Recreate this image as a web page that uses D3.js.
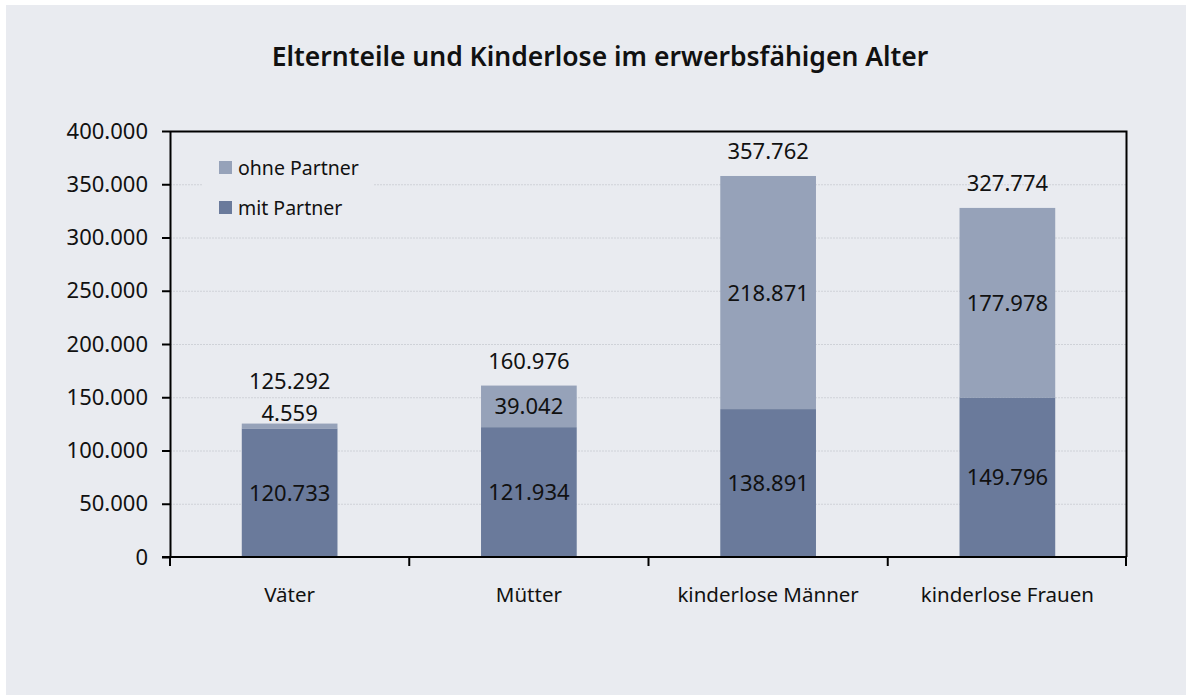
<!DOCTYPE html>
<html lang="de">
<head>
<meta charset="utf-8">
<title>Elternteile und Kinderlose</title>
<script src="https://d3js.org/d3.v7.min.js"></script>
<style>
  body { margin: 0; background: #ffffff; }
  text { font-family: "Noto Sans", sans-serif; fill: #111; }
</style>
</head>
<body>
<script>
// data
const categories = ["Väter", "Mütter", "kinderlose Männer", "kinderlose Frauen"];
const mitPartner = [120733, 121934, 138891, 149796];
const ohnePartner = [4559, 39042, 218871, 177978];
const totals = [125292, 160976, 357762, 327774];
const yTicks = [0, 50000, 100000, 150000, 200000, 250000, 300000, 350000, 400000];
const seriesNames = ["mit Partner", "ohne Partner"];

const width = 1191, height = 699;
const mLeft = 170, mRight = 1127, mTop = 131, mBottom = 557;
const darkCol = "#6a7a9b", lightCol = "#96a2b9", bg = "#e9ebf0";
const numSize = "22px";

const fmt = d3.formatLocale({decimal: ",", thousands: ".", grouping: [3], currency: ["", "€"]}).format(",d");

const svg = d3.select("body").append("svg")
    .attr("width", width)
    .attr("height", height);

svg.append("rect")
    .attr("x", 6).attr("y", 5)
    .attr("width", width - 11).attr("height", height - 9)
    .attr("fill", bg);

// title
svg.append("text")
    .attr("x", 600).attr("y", 66)
    .attr("text-anchor", "middle")
    .style("font-size", "26.5px")
    .style("font-weight", "600")
    .text("Elternteile und Kinderlose im erwerbsfähigen Alter");

const x = d3.scaleBand().domain(categories).range([mLeft, mRight]);
const y = d3.scaleLinear().domain([0, 400000]).range([mBottom, mTop]);

// gridlines
svg.append("g").selectAll("line")
    .data(yTicks.slice(1, -1))
    .enter().append("line")
    .attr("x1", mLeft).attr("x2", mRight)
    .attr("y1", d => y(d) + 0.5).attr("y2", d => y(d) + 0.5)
    .attr("stroke", "#cfd2d8")
    .attr("stroke-dasharray", "2,1");

// stacked bars
const rows = categories.map((c, i) => ({cat: c, mit: mitPartner[i], ohne: ohnePartner[i], total: totals[i]}));
const stack = d3.stack().keys(["mit", "ohne"])(rows);
const colors = [darkCol, lightCol];
const bw = x.bandwidth() * 0.4;

stack.forEach((layer, k) => {
    svg.append("g").selectAll("rect")
        .data(layer)
        .enter().append("rect")
        .attr("x", d => x(d.data.cat) + (x.bandwidth() - bw) / 2)
        .attr("y", d => y(d[1]))
        .attr("width", bw)
        .attr("height", d => y(d[0]) - y(d[1]))
        .attr("fill", colors[k]);
});

// segment labels (tiny segments get their label just above the bar)
stack.forEach((layer, k) => {
    svg.append("g").selectAll("text")
        .data(layer)
        .enter().append("text")
        .attr("x", d => x(d.data.cat) + x.bandwidth() / 2)
        .attr("y", d => {
            const h = y(d[0]) - y(d[1]);
            if (h < 26) return y(d[1]) - 3;
            return (y(d[0]) + y(d[1])) / 2 + 8;
        })
        .attr("text-anchor", "middle")
        .style("font-size", numSize)
        .text(d => fmt(d[1] - d[0]));
});

// total labels
svg.append("g").selectAll("text")
    .data(rows)
    .enter().append("text")
    .attr("x", d => x(d.cat) + x.bandwidth() / 2)
    .attr("y", (d, i) => y(d.total) - (ohnePartner[i] / d.total < 0.1 ? 35 : 17))
    .attr("text-anchor", "middle")
    .style("font-size", numSize)
    .text(d => fmt(d.total));

// frame top / right
svg.append("path")
    .attr("d", `M${mLeft},${mTop + 0.5}H${mRight - 0.5}V${mBottom}`)
    .attr("fill", "none")
    .attr("stroke", "#000")
    .attr("stroke-width", 2);

// y axis
const yAxis = svg.append("g")
    .attr("transform", `translate(${mLeft},0)`)
    .call(d3.axisLeft(y).tickValues(yTicks).tickFormat(fmt).tickSizeInner(8).tickSizeOuter(0).tickPadding(14));
yAxis.select(".domain").attr("stroke-width", 2);
yAxis.selectAll(".tick line").attr("stroke-width", 2);
yAxis.selectAll("text").style("font-size", numSize).style("font-family", "Noto Sans").attr("fill", "#111");

// x axis: ticks between categories
const xAxis = svg.append("g")
    .attr("transform", `translate(0,${mBottom})`);
xAxis.append("line")
    .attr("x1", mLeft - 8).attr("x2", mRight)
    .attr("stroke", "#000").attr("stroke-width", 2);
const bounds = categories.map(c => x(c)).concat([mRight - 1]);
xAxis.selectAll(".xt").data(bounds).enter().append("line")
    .attr("x1", d => d).attr("x2", d => d)
    .attr("y1", 0).attr("y2", 9)
    .attr("stroke", "#000").attr("stroke-width", 2);
xAxis.selectAll(".xl").data(categories).enter().append("text")
    .attr("x", d => x(d) + x.bandwidth() / 2)
    .attr("y", 45)
    .attr("text-anchor", "middle")
    .style("font-size", "20.5px")
    .text(d => d);

// legend
const leg = svg.append("g");
leg.append("rect")
    .attr("x", 202).attr("y", 150).attr("width", 172).attr("height", 78)
    .attr("fill", bg);
const legItems = [{name: seriesNames[1], col: lightCol}, {name: seriesNames[0], col: darkCol}];
legItems.forEach((it, i) => {
    leg.append("rect")
        .attr("x", 219).attr("y", 161 + i * 40)
        .attr("width", 13).attr("height", 13)
        .attr("fill", it.col);
    leg.append("text")
        .attr("x", 238).attr("y", 175 + i * 40)
        .style("font-size", "19.5px")
        .text(it.name);
});
</script>
</body>
</html>
